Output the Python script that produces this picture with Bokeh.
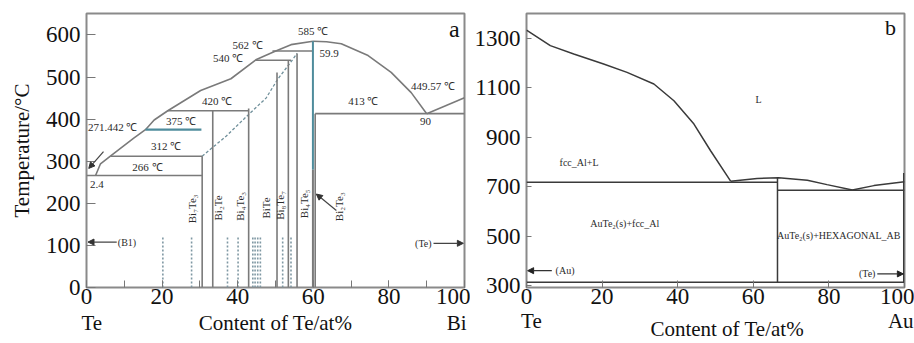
import math
from bokeh.plotting import figure
from bokeh.layouts import row
from bokeh.models import (SingleIntervalTicker, FixedTicker,
                          Arrow, NormalHead, Label, LinearAxis)
from bokeh.core.properties import value
from bokeh.embed import file_html
from bokeh.resources import INLINE

SERIF = "Liberation Serif"

# ---------------- Panel a : Bi-Te ----------------
a_liq_left_x = [2.4, 3.7, 6.4, 12.5, 15.6, 17.9, 21.5, 30.2, 38.2, 44.8, 49.6, 54.1, 59.9]
a_liq_left_y = [266, 294, 313, 355, 375, 398, 420, 468, 496, 541, 560, 577, 585]
a_liq_right_x = [59.9, 63.5, 67.4, 74.5, 80.6, 85.9, 90.0]
a_liq_right_y = [585, 584, 579, 551, 511, 463, 413]
a_liq_te_x = [90.0, 100.0]
a_liq_te_y = [413, 451]
a_dash_x = [30.6, 37.0, 43.0, 47.5, 50.6, 54.0, 55.7]
a_dash_y = [312, 360, 412, 450, 495, 535, 556]

a_iso_y = [266, 312, 420, 540, 562, 413]
a_iso_x0 = [0.0, 6.4, 21.5, 44.8, 49.2, 60.5]
a_iso_x1 = [30.6, 30.6, 42.9, 54.1, 59.9, 100.0]
a_teal_iso_y = [375]
a_teal_iso_x0 = [15.6]
a_teal_iso_x1 = [30.4]

a_vert_x = [30.6, 33.4, 42.9, 50.4, 53.4, 55.7, 60.5]
a_vert_top = [312, 420, 425, 511, 540, 556, 413]
a_bi2te3_x = 59.9
a_bi2te3_top = 585
a_bi2te3_mid = 280

a_dot_x = [20.2, 27.8, 37.3, 40.1, 44.0, 44.6, 45.3, 46.0, 51.9, 54.1]
a_dot_top = 119

a_comp_name = ["Bi₇Te₃", "Bi₂Te", "Bi₄Te₃", "BiTe", "Bi₈Te₇", "Bi₄Te₅", "Bi₂Te₃"]
a_comp_x = [27.9, 34.9, 40.7, 47.5, 51.2, 57.6, 66.9]
a_comp_y = [187, 189, 193, 189, 195, 199, 192]

a_temp_text = ["585  ℃", "562  ℃", "540  ℃", "59.9", "449.57  ℃", "413  ℃", "90",
               "420  ℃", "375  ℃", "312  ℃", "266  ℃", "271.442  ℃", "2.4"]
a_temp_x = [60.3, 43.0, 37.8, 64.2, 92.0, 73.6, 89.7, 34.9, 25.4, 21.4, 16.5, 7.3, 2.75]
a_temp_y = [609, 575, 546, 556, 478, 442, 395, 443, 395, 336, 286, 381, 245]

a_bottom_labels = {1.4: "Te", 50.0: "Content of Te/at%", 97.9: "Bi"}

# ---------------- Panel b : Au-Te ----------------
b_liq_left_x = [0.0, 6.3, 12.5, 20.4, 26.6, 33.7, 39.0, 44.3, 48.7, 54.0]
b_liq_left_y = [1333, 1270, 1236, 1196, 1162, 1115, 1047, 953, 845, 722]
b_liq_right_x = [54.0, 61.0, 66.7, 74.3, 79.5, 86.2, 91.9, 100.0]
b_liq_right_y = [722, 733, 736, 726, 708, 686, 704, 720]
b_iso_y = [718, 685, 313]
b_iso_x0 = [0.0, 66.4, 0.0]
b_iso_x1 = [66.4, 100.0, 100.0]
b_vert_x = [66.4, 99.8]
b_vert_top = [736, 755]
b_vert_bottom = [313, 313]

b_text = ["L", "fcc_Al+L", "AuTe₂(s)+fcc_Al", "AuTe₂(s)+HEXAGONAL_AB"]
b_text_x = [61.4, 13.9, 26.0, 82.6]
b_text_y = [1054, 796, 552, 502]

b_end_labels = {1.3: "Te", 99.0: "Au"}
b_title_labels = {53.1: "Content of Te/at%"}

GRAY = "#7a7a7a"
TEAL = "#4f8c9c"
TXT = "#2a2a2a"


def style(p, xticker, yticker, ytick_in):
    p.outline_line_color = "#8a8a8a"
    p.outline_line_width = 2
    p.grid.visible = False
    p.axis.axis_line_color = None
    p.axis.major_tick_line_color = "#777777"
    p.axis.minor_tick_line_color = "#777777"
    p.axis.major_tick_out = 0
    p.axis.minor_tick_out = 0
    p.xaxis.major_tick_in = 7
    p.xaxis.minor_tick_in = 7
    p.yaxis.major_tick_in = ytick_in
    p.yaxis.minor_tick_line_color = None
    p.axis.major_label_text_font = SERIF
    p.axis.major_label_text_font_size = "23px"
    p.axis.major_label_text_color = "#111111"
    p.xaxis.major_label_standoff = 1
    p.yaxis.major_label_standoff = 6
    p.xaxis.ticker = xticker
    p.yaxis.ticker = yticker


def text_axis(p, labels, standoff):
    ax = LinearAxis(ticker=FixedTicker(ticks=list(labels.keys())),
                    major_label_overrides=labels,
                    axis_line_color=None, major_tick_line_color=None,
                    minor_tick_line_color=None, major_tick_in=0, major_tick_out=0,
                    major_label_text_font=SERIF, major_label_text_font_size="21px",
                    major_label_text_color="#111111", major_label_standoff=standoff)
    p.add_layout(ax, "below")


# ---------- figure a ----------
pa = figure(width=470, height=343, x_range=(0, 100), y_range=(0, 651),
            output_backend="svg", toolbar_location=None,
            min_border_left=86, min_border_right=6, min_border_top=13, min_border_bottom=56)
style(pa, SingleIntervalTicker(interval=20, num_minor_ticks=2),
      SingleIntervalTicker(interval=100, num_minor_ticks=0), 9)
pa.yaxis.axis_label = "Temperature/°C"
pa.yaxis.axis_label_text_font = SERIF
pa.yaxis.axis_label_text_font_style = "normal"
pa.yaxis.axis_label_text_font_size = "21px"
pa.yaxis.axis_label_text_color = "#111111"
pa.yaxis.axis_label_standoff = 9
text_axis(pa, a_bottom_labels, 4)

pa.line(a_liq_left_x, a_liq_left_y, line_color=GRAY, line_width=1.6)
pa.line(a_liq_right_x, a_liq_right_y, line_color=GRAY, line_width=1.6)
pa.line(a_liq_te_x, a_liq_te_y, line_color=GRAY, line_width=1.6)
pa.line(a_dash_x, a_dash_y, line_color="#6f8f9a", line_width=1.3, line_dash="3 2")
pa.segment(x0=a_iso_x0, y0=a_iso_y, x1=a_iso_x1, y1=a_iso_y, line_color=GRAY, line_width=1.6)
pa.segment(x0=a_teal_iso_x0, y0=a_teal_iso_y, x1=a_teal_iso_x1, y1=a_teal_iso_y,
           line_color=TEAL, line_width=2.2)
pa.segment(x0=a_vert_x, y0=[0] * len(a_vert_x), x1=a_vert_x, y1=a_vert_top,
           line_color=GRAY, line_width=1.6)
pa.segment(x0=[a_bi2te3_x], y0=[a_bi2te3_mid], x1=[a_bi2te3_x], y1=[a_bi2te3_top],
           line_color=TEAL, line_width=2.0)
pa.segment(x0=[a_bi2te3_x], y0=[0], x1=[a_bi2te3_x], y1=[a_bi2te3_mid],
           line_color=GRAY, line_width=2.0)
pa.segment(x0=a_dot_x, y0=[0] * len(a_dot_x), x1=a_dot_x, y1=[a_dot_top] * len(a_dot_x),
           line_color="#7f98a3", line_width=1.6, line_dash="2 2")

pa.text(x=a_comp_x, y=a_comp_y, text=a_comp_name, angle=math.pi / 2,
        text_font=value(SERIF), text_font_size="11px", text_color=TXT,
        text_align="center", text_baseline="middle")
pa.text(x=a_temp_x, y=a_temp_y, text=a_temp_text,
        text_font=value(SERIF), text_font_size="11px", text_color=TXT,
        text_align="center", text_baseline="middle")
pa.text(x=[8.3], y=[108], text=["(B1)"], text_font=value(SERIF), text_font_size="10px",
        text_color=TXT, text_align="left", text_baseline="middle")
pa.text(x=[91.3], y=[105], text=["(Te)"], text_font=value(SERIF), text_font_size="10px",
        text_color=TXT, text_align="right", text_baseline="middle")

for xs, ys, xe, ye in [(8.0, 108, 0.4, 108), (91.8, 105, 99.7, 105), (66.1, 183, 60.8, 222),
                       (4.5, 323, 0.6, 283)]:
    pa.add_layout(Arrow(end=NormalHead(size=6, fill_color="#333333", line_color="#333333"),
                        x_start=xs, y_start=ys, x_end=xe, y_end=ye,
                        line_color="#444444", line_width=1.2))

pa.add_layout(Label(x=97.3, y=615, text="a", text_font=SERIF, text_font_size="24px",
                    text_color="#111111", text_align="center", text_baseline="middle"))

# ---------- figure b ----------
pb = figure(width=444, height=343, x_range=(0, 100), y_range=(292, 1400),
            output_backend="svg", toolbar_location=None,
            min_border_left=56, min_border_right=10, min_border_top=13, min_border_bottom=56)
style(pb, FixedTicker(ticks=[0, 20, 40, 60, 80, 100]),
      FixedTicker(ticks=[300, 500, 700, 900, 1100, 1300]), 5)
pb.xaxis.minor_tick_line_color = None
text_axis(pb, b_end_labels, 2)
text_axis(pb, b_title_labels, -19)

DARK = "#3a3a3a"
pb.line(b_liq_left_x, b_liq_left_y, line_color=DARK, line_width=1.5)
pb.line(b_liq_right_x, b_liq_right_y, line_color=DARK, line_width=1.5)
pb.segment(x0=b_iso_x0, y0=b_iso_y, x1=b_iso_x1, y1=b_iso_y, line_color=DARK, line_width=1.5)
pb.segment(x0=b_vert_x, y0=b_vert_bottom, x1=b_vert_x, y1=b_vert_top,
           line_color=DARK, line_width=1.5)
pb.text(x=b_text_x, y=b_text_y, text=b_text, text_font=value(SERIF),
        text_font_size="10px", text_color=TXT, text_align="center", text_baseline="middle")
pb.text(x=[7.7], y=[360], text=["(Au)"], text_font=value(SERIF), text_font_size="10px",
        text_color=TXT, text_align="left", text_baseline="middle")
pb.text(x=[92.3], y=[347], text=["(Te)"], text_font=value(SERIF), text_font_size="10px",
        text_color=TXT, text_align="right", text_baseline="middle")
for xs, ys, xe, ye in [(6.7, 360, 0.3, 360), (92.8, 347, 99.7, 347)]:
    pb.add_layout(Arrow(end=NormalHead(size=6, fill_color="#222222", line_color="#222222"),
                        x_start=xs, y_start=ys, x_end=xe, y_end=ye,
                        line_color="#333333", line_width=1.2))

pb.add_layout(Label(x=96.3, y=1344, text="b", text_font=SERIF, text_font_size="22px",
                    text_color="#111111", text_align="center", text_baseline="middle"))

layout = row(pa, pb)
open("out.html", "w").write(file_html(layout, INLINE))
